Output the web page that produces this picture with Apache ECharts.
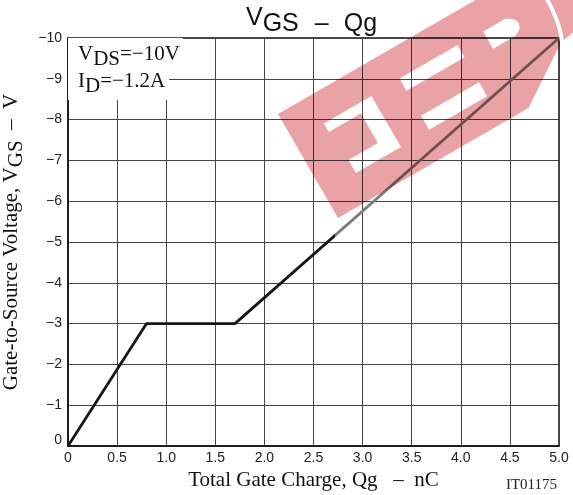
<!DOCTYPE html>
<html><head><meta charset="utf-8">
<script src="https://cdn.jsdelivr.net/npm/echarts@6/dist/echarts.min.js"></script>
<style>html,body{margin:0;padding:0;background:#fff}#c{width:573px;height:495px}</style>
</head><body><div id="c"></div>
<script>
// ---- data ----
const qg = [0, 0.8, 1.7, 5.0];          // Total gate charge, nC
const vgs = [0, -3, -3, -10];           // Gate-to-source voltage, V
const xTickLabels = ['0','0.5','1.0','1.5','2.0','2.5','3.0','3.5','4.0','4.5','5.0'];
const yTickLabels = ['0','\u22121','\u22122','\u22123','\u22124','\u22125','\u22126','\u22127','\u22128','\u22129','\u221210'];
const colorBreakQg = 2.72;              // where the drawn curve turns grey
const X_MIN = 0, X_MAX = 5;

const serif = '"Liberation Serif","Times New Roman",serif';
const sans = '"Liberation Sans",Arial,sans-serif';

// ---- watermark (decoration) in band-local coordinates ----
const WM = {ox: 338, oy: 218, ang: 30 * Math.PI / 180};
function wp(s, t) {
  const c = Math.cos(WM.ang), sn = Math.sin(WM.ang);
  return [WM.ox + c * s - sn * t, WM.oy - sn * s - c * t];
}
const wmLocal = [
  [0,0],[38,0],
  [38,30],[38,45],[72,45],[72,79],[35,79],[35,89],[90,89],[90,30],[38,30],
  [38,0],[123,0],
  [123,31],[123,47],[190,47],[190,31],[123,31],
  [123,0],[220,0],[250,20],[280,40],[300,44],[325,60],[345,120],
  [219,120],
  [219,89],[245,89],[252,84],[254,79],[252,73],[245,69],[219,69],[219,89],
  [219,120],[123,120],
  [123,90],[190,90],[190,76],[123,76],[123,90],
  [123,120],[0,120]
];
const wmPoints = wmLocal.map(p => wp(p[0], p[1]));
const arcPts = [[281,38],[287,55],[290,75],[290,95],[288,120]].map(p => wp(p[0], p[1]));

const data = qg.map((q, i) => [q, vgs[i]]);
const br = (colorBreakQg - X_MIN) / (X_MAX - X_MIN);
const lineColor = new echarts.graphic.LinearGradient(0, 0, 1, 0, [
  {offset: 0, color: '#161616'}, {offset: br, color: '#161616'},
  {offset: br, color: '#7c7c7c'}, {offset: 1, color: '#7c7c7c'}
]);

const chart = echarts.init(document.getElementById('c'), null, {renderer: 'canvas'});
chart.setOption({
  backgroundColor: '#fff',
  animation: false,
  title: {
    text: '{v|V}{s|GS}{d|\u2013}{s|Qg}',
    left: 246, top: 6, padding: 0,
    textStyle: {
      fontFamily: sans, fontSize: 25, fontWeight: 'normal', color: '#111',
      rich: {
        v: {fontFamily: sans, fontSize: 25, color: '#111', padding: [0,0,6,0]},
        s: {fontFamily: sans, fontSize: 25, color: '#111', padding: [6,0,0,0]},
        d: {fontFamily: sans, fontSize: 25, color: '#111', padding: [6,15,0,16]}
      }
    }
  },
  grid: {left: 68, right: 14, top: 38, bottom: 49, show: true, borderColor: '#111', borderWidth: 1.5,
    backgroundColor: 'transparent', outerBoundsMode: 'none', containLabel: false},
  xAxis: {
    type: 'value', min: X_MIN, max: X_MAX, interval: 0.5,
    name: 'Total Gate Charge, Qg   \u2013  nC', nameLocation: 'middle', nameGap: 17,
    nameTextStyle: {fontFamily: serif, fontSize: 21, color: '#111'},
    axisLine: {show: true, lineStyle: {color: '#111', width: 1.5}},
    axisTick: {show: false},
    axisLabel: {margin: 5, fontFamily: sans, fontSize: 14, color: '#222',
      formatter: v => xTickLabels[Math.round(v / 0.5)]},
    splitLine: {show: true, lineStyle: {color: '#444', width: 1}}
  },
  yAxis: {
    type: 'value', min: -10, max: 0, interval: 1, inverse: true,
    name: '{n|Gate-to-Source Voltage, V}{s|GS}{n|  \u2013  V}', nameLocation: 'middle', nameGap: 41,
    nameTextStyle: {fontFamily: serif, fontSize: 21, color: '#111',
      rich: {
        n: {fontFamily: serif, fontSize: 21, color: '#111', padding: [0,0,5,0]},
        s: {fontFamily: serif, fontSize: 21, color: '#111', padding: [5,0,0,0]}
      }},
    axisLine: {show: true, lineStyle: {color: '#111', width: 1.5}},
    axisTick: {show: false},
    axisLabel: {margin: 6, fontFamily: sans, fontSize: 14, color: '#222',
      formatter: v => v === 0 ? '{z|0}' : yTickLabels[Math.round(-v)],
      rich: {z: {fontFamily: sans, fontSize: 14, color: '#222', padding: [0,0,12,0]}}},
    splitLine: {show: true, lineStyle: {color: '#444', width: 1}}
  },
  series: [{
    type: 'line', data: data, symbol: 'none', z: 5,
    lineStyle: {width: 2.8, color: lineColor}
  }],
  graphic: [
    {type: 'text', left: 68, top: 38, z: 50, silent: true,
      style: {text: '{n|V}{s|DS}{n|=\u221210V}', fill: '#111', font: '21px ' + serif,
        backgroundColor: '#fff', padding: [6,3,3,10],
        rich: {n: {fontFamily: serif, fontSize: 21, fill: '#111', padding: [0,0,5,0]},
               s: {fontFamily: serif, fontSize: 21, fill: '#111', padding: [5,0,0,0]}}}},
    {type: 'text', left: 68, top: 70, z: 49, silent: true,
      style: {text: '{n|I}{s|D}{n|=\u22121.2A}', fill: '#111', font: '21px ' + serif,
        backgroundColor: '#fff', padding: [1,4,3,10],
        rich: {n: {fontFamily: serif, fontSize: 21, fill: '#111', padding: [0,0,5,0]},
               s: {fontFamily: serif, fontSize: 21, fill: '#111', padding: [5,0,0,0]}}}},
    {type: 'text', right: 16, top: 478, z: 50, silent: true,
      style: {text: 'IT01175', fill: '#222', font: '15px ' + serif}},
    {type: 'polygon', z: 100, silent: true, shape: {points: wmPoints},
      style: {fill: '#e9a3a6', blend: 'multiply'}},
    {type: 'polyline', z: 101, silent: true, shape: {points: arcPts, smooth: 0.4},
      style: {stroke: '#fff', lineWidth: 4, fill: null}}
  ]
});
</script>
</body></html>
